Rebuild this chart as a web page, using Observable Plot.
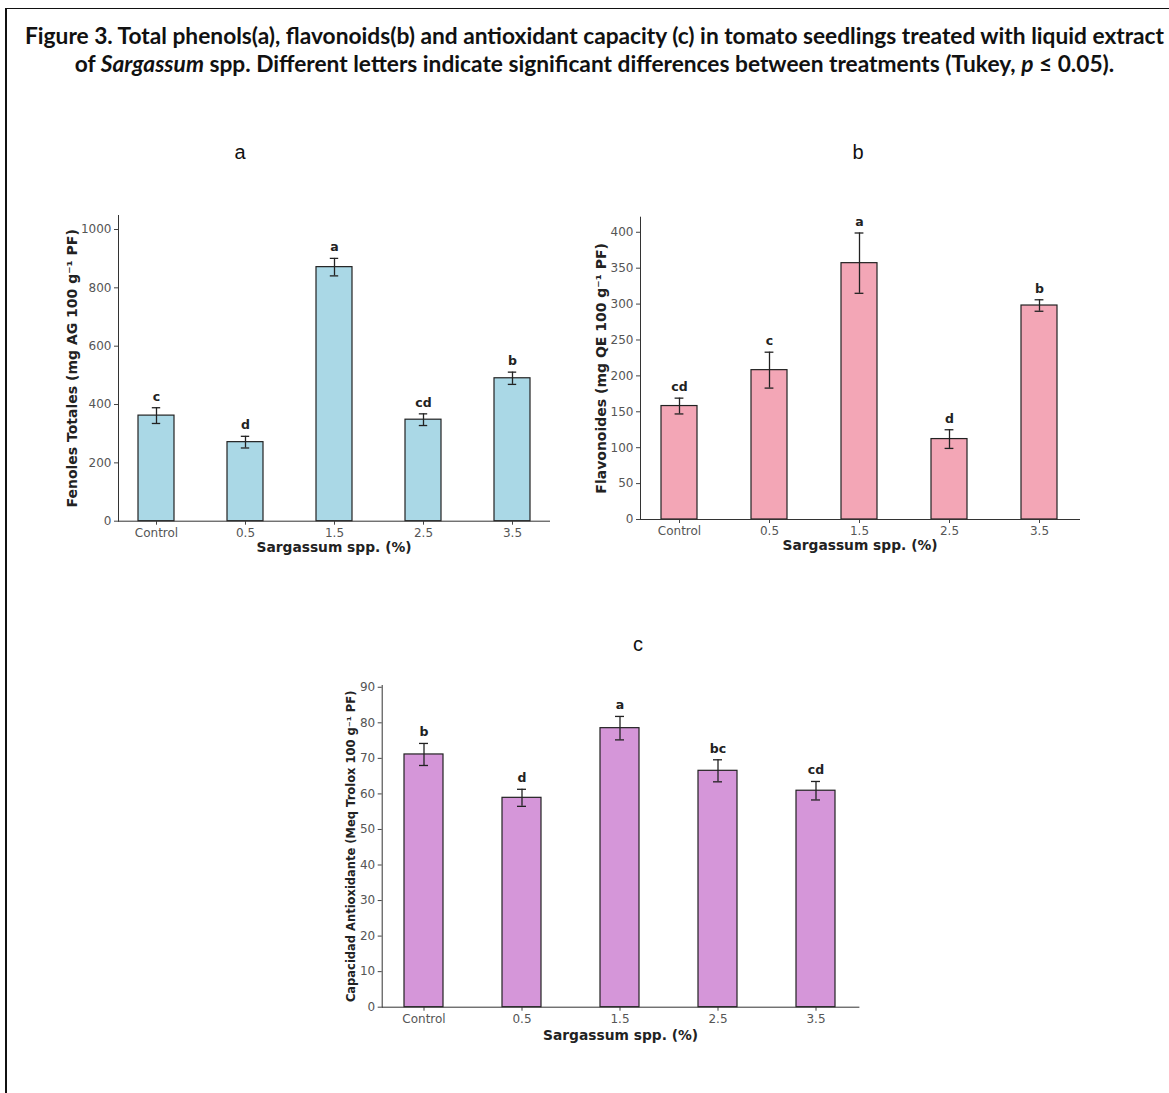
<!DOCTYPE html>
<html>
<head>
<meta charset="utf-8">
<script src="https://cdn.jsdelivr.net/npm/d3@7"></script>
<script src="https://cdn.jsdelivr.net/npm/@observablehq/plot@0.6"></script>
<style>
  html, body { margin: 0; padding: 0; background: #fff; }
  #wrap { position: relative; width: 1169px; height: 1093px; overflow: hidden; background: #fff; }
  #border { position: absolute; left: 5px; top: 8px; right: -4px; bottom: -4px; border-left: 2px solid #111; border-top: 1.5px solid #111; }
  #title { position: absolute; left: 14px; width: 1161px; top: 22px; text-align: center; font-family: Lato, "Open Sans", sans-serif; font-weight: bold; color: #111; line-height: 28px; white-space: nowrap; }
  .ptitle { position: absolute; font-family: "Liberation Sans", Arial, sans-serif; font-size: 20px; color: #111; transform: translate(-50%, -50%); }
  .panel { position: absolute; }
  .panel svg text { font-family: "DejaVu Sans", sans-serif; }
  .panel svg [aria-label$="tick label"] { fill: #555; }
</style>
</head>
<body>
<div id="wrap">
  <div id="border"></div>
  <div id="title">
    <div id="t1">Figure 3. Total phenols(a), flavonoids(b) and antioxidant capacity (c) in tomato seedlings treated with liquid extract</div>
    <div id="t2">of <i>Sargassum</i> spp. Different letters indicate significant differences between treatments (Tukey, <i>p</i> ≤ 0.05).</div>
  </div>
  <div class="ptitle" style="left:240px; top:152px;">a</div>
  <div class="ptitle" style="left:858px; top:152px;">b</div>
  <div class="ptitle" style="left:638px; top:644px;">c</div>
  <div class="panel" id="pa" style="left:40px; top:180px;"></div>
  <div class="panel" id="pb" style="left:560px; top:180px;"></div>
  <div class="panel" id="pc" style="left:300px; top:670px;"></div>
</div>
<script>
// ---- data ----
const categories = ["Control", "0.5", "1.5", "2.5", "3.5"];

const phenolsMean = [362, 271, 871, 348, 490];
const phenolsErr  = [27, 20, 30, 20, 21];
const phenolsLetters = ["c", "d", "a", "cd", "b"];
const phenolsTicks = [0, 200, 400, 600, 800, 1000];

const flavMean = [158, 208, 357, 112, 298];
const flavErr  = [11, 25, 42, 13, 8];
const flavLetters = ["cd", "c", "a", "d", "b"];
const flavTicks = [0, 50, 100, 150, 200, 250, 300, 350, 400];

const antiMean = [71.1, 58.9, 78.5, 66.5, 60.9];
const antiErr  = [3.1, 2.4, 3.3, 3.1, 2.6];
const antiLetters = ["b", "d", "a", "bc", "cd"];
const antiTicks = [0, 10, 20, 30, 40, 50, 60, 70, 80, 90];

const xLabel = "Sargassum spp. (%)";

const FONT = "DejaVu Sans, sans-serif";

// ---- title fit ----
(function fitTitle() {
  const c = document.createElement("canvas").getContext("2d");
  c.font = "bold 20px Lato";
  const w = c.measureText(document.getElementById("t1").textContent).width;
  const size = 20 * 1141 / w;
  document.getElementById("title").style.fontSize = size + "px";
})();

function panel(el, opts) {
  const data = categories.map((cat, i) => ({cat, v: opts.mean[i], e: opts.err[i], l: opts.letters[i]}));
  const chart = Plot.plot({
    width: opts.width, height: opts.height,
    marginLeft: opts.ml, marginRight: opts.mr, marginTop: opts.mt, marginBottom: opts.mb,
    style: {background: "transparent", overflow: "visible", fontFamily: FONT},
    x: {type: "band", domain: categories, paddingInner: 0.6, paddingOuter: 0.22, label: null},
    y: {domain: opts.ydomain, label: null},
    marks: [
      Plot.barY(data, {x: "cat", y: "v", fill: opts.fill, stroke: "#222", strokeWidth: 1.2}),
      Plot.ruleX(data, {x: "cat", y1: d => d.v - d.e, y2: d => d.v + d.e, stroke: "#222", strokeWidth: 1.3}),
      Plot.tickY(data, {x: "cat", y: d => d.v + d.e, stroke: "#222", strokeWidth: 1.3, insetLeft: opts.capInset, insetRight: opts.capInset}),
      Plot.tickY(data, {x: "cat", y: d => d.v - d.e, stroke: "#222", strokeWidth: 1.3, insetLeft: opts.capInset, insetRight: opts.capInset}),
      Plot.text(data, {x: "cat", y: d => d.v + d.e, text: "l", dy: -11, fontWeight: "bold", fontSize: 12.5, fill: "#222", fontFamily: FONT}),
      Plot.axisY({ticks: opts.ticks, tickFormat: d => String(d), tickSize: 4, tickPadding: 3, fontSize: 12, fontFamily: FONT, label: null, color: "#444"}),
      Plot.axisX({tickSize: 4, tickPadding: 3, fontSize: 12, fontFamily: FONT, label: null, color: "#444"}),
      Plot.frame({anchor: "left", stroke: "#333"}),
      Plot.frame({anchor: "bottom", stroke: "#333"}),
      Plot.text([opts.ylabel], {frameAnchor: "left", textAnchor: "middle", lineAnchor: "middle", rotate: -90, dx: opts.ylabDx, fontWeight: "bold", fontSize: opts.ylabSize, fill: "#222", fontFamily: FONT}),
      Plot.text([xLabel], {frameAnchor: "bottom", textAnchor: "middle", lineAnchor: "middle", dy: opts.xlabDy, fontWeight: "bold", fontSize: 13.8, fill: "#222", fontFamily: FONT})
    ]
  });
  document.getElementById(el).appendChild(chart);
}

panel("pa", {
  mean: phenolsMean, err: phenolsErr, letters: phenolsLetters, ticks: phenolsTicks,
  width: 540, height: 390, ml: 78, mr: 31, mt: 35, mb: 49.3,
  ydomain: [0, 1048], fill: "#aad8e6", capInset: 13.8,
  ylabel: "Fenoles Totales (mg AG 100 g⁻¹ PF)", ylabDx: -46, ylabSize: 14, xlabDy: 26
});

panel("pb", {
  mean: flavMean, err: flavErr, letters: flavLetters, ticks: flavTicks,
  width: 560, height: 390, ml: 80, mr: 41, mt: 36.7, mb: 51,
  ydomain: [0, 421], fill: "#f3a6b6", capInset: 13.6,
  ylabel: "Flavonoides (mg QE 100 g⁻¹ PF)", ylabDx: -39, ylabSize: 14, xlabDy: 26
});

panel("pc", {
  mean: antiMean, err: antiErr, letters: antiLetters, ticks: antiTicks,
  width: 600, height: 400, ml: 81.7, mr: 41.6, mt: 15, mb: 63.3,
  ydomain: [0, 90.5], fill: "#d596d9", capInset: 15,
  ylabel: "Capacidad Antioxidante (Meq Trolox 100 g⁻¹ PF)", ylabDx: -31, ylabSize: 11.5, xlabDy: 28
});
</script>
</body>
</html>
